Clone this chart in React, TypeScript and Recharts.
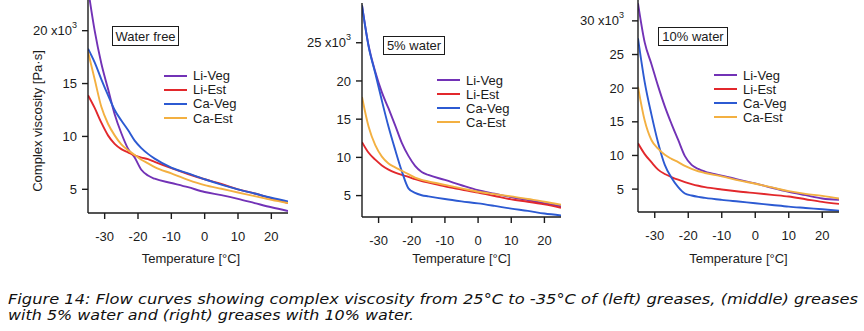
import React from "react";
import { LineChart, Line, XAxis, YAxis } from "recharts";

// temperatures (°C) where the curves were read
const temps = [-35, -33, -31, -29, -27, -25, -23, -21, -19, -17, -15, -10, -5, 0, 5, 10, 15, 20, 25];
const xTicks = [-30, -20, -10, 0, 10, 20];

const seriesNames = ["Li-Veg", "Li-Est", "Ca-Veg", "Ca-Est"];
const seriesColors = ["#7232b6", "#e2282c", "#2c5ad2", "#f3b041"];

// complex viscosity, x10^3 Pa·s — water free
const freeLiVeg = [24.0, 20.0, 16.9, 14.5, 12.1, 10.3, 8.85, 8.0, 6.85, 6.3, 6.0, 5.6, 5.2, 4.75, 4.45, 4.1, 3.7, 3.3, 2.95];
const freeLiEst = [13.9, 12.7, 11.3, 10.1, 9.3, 8.8, 8.5, 8.2, 8.0, 7.85, 7.6, 7.0, 6.45, 5.95, 5.5, 5.0, 4.6, 4.15, 3.7];
const freeCaVeg = [18.3, 17.0, 15.4, 13.9, 12.5, 11.5, 10.6, 9.6, 8.9, 8.35, 7.9, 7.05, 6.5, 5.95, 5.45, 5.0, 4.6, 4.2, 3.85];
const freeCaEst = [18.0, 15.4, 12.8, 11.2, 10.1, 9.25, 8.7, 8.25, 7.8, 7.45, 7.1, 6.5, 5.9, 5.4, 5.05, 4.7, 4.35, 4.0, 3.7];
const freeTicks = [5, 10, 15, 20];

// 5% water
const w5LiVeg = [29.9, 24.6, 21.2, 18.5, 16.4, 14.2, 11.9, 10.2, 8.9, 8.1, 7.7, 7.05, 6.35, 5.7, 5.25, 4.8, 4.4, 4.0, 3.6];
const w5LiEst = [12.0, 10.6, 9.7, 8.95, 8.4, 8.0, 7.7, 7.45, 7.15, 6.9, 6.7, 6.2, 5.8, 5.4, 4.95, 4.5, 4.2, 3.85, 3.4];
const w5CaVeg = [29.9, 24.5, 21.0, 17.4, 14.0, 11.0, 8.2, 5.95, 5.35, 5.05, 4.9, 4.55, 4.25, 3.98, 3.65, 3.3, 3.0, 2.65, 2.4];
const w5CaEst = [17.9, 14.0, 11.6, 10.1, 9.2, 8.7, 8.25, 7.8, 7.35, 7.05, 6.85, 6.4, 5.95, 5.5, 5.2, 4.9, 4.55, 4.2, 3.8];
const w5Ticks = [5, 10, 15, 20, 25];

// 10% water
const w10LiVeg = [32.6, 26.8, 23.6, 20.3, 17.3, 14.7, 12.3, 9.9, 8.6, 8.0, 7.6, 7.0, 6.4, 5.85, 5.2, 4.6, 4.1, 3.6, 3.4];
const w10LiEst = [11.8, 10.2, 9.0, 7.9, 7.25, 6.8, 6.4, 6.05, 5.75, 5.5, 5.3, 4.95, 4.65, 4.4, 4.15, 3.9, 3.5, 3.1, 2.8];
const w10CaVeg = [27.4, 20.9, 16.1, 11.9, 8.6, 6.7, 5.3, 4.35, 4.05, 3.85, 3.7, 3.4, 3.15, 2.9, 2.65, 2.4, 2.2, 2.0, 1.8];
const w10CaEst = [20.2, 15.2, 12.3, 11.0, 10.1, 9.5, 9.0, 8.45, 8.0, 7.65, 7.4, 6.9, 6.3, 5.8, 5.25, 4.7, 4.3, 4.0, 3.6];
const w10Ticks = [5, 10, 15, 20, 25, 30];

const FONT = "'Liberation Sans', Arial, sans-serif";
const INK = "#1b1b1b";

function buildRows(series: number[][]) {
  return temps.map((t, i) => {
    const row: Record<string, number> = { t };
    seriesNames.forEach((name, k) => {
      row[name] = series[k][i];
    });
    return row;
  });
}

function makeYTick(topTick: number) {
  return (props: any) => {
    const { x, y, payload } = props;
    const isTop = payload.value === topTick;
    return (
      <text x={x} y={y} dy={4.6} textAnchor="end" fontSize={13} fontFamily={FONT} fill={INK}>
        {isTop ? (
          <>
            {payload.value} x10<tspan dy={-7} fontSize={9}>3</tspan>
          </>
        ) : (
          payload.value
        )}
      </text>
    );
  };
}

interface PanelProps {
  left: number;
  width: number;
  yWidth: number;
  xHeight: number;
  top: number;
  yTickMargin: number;
  domain: [number, number];
  ticks: number[];
  series: number[][];
  label: string;
  box: { x: number; y: number; w: number; h: number };
  legend: { x: number; y: number };
  titleShift: number;
  showYTitle?: boolean;
}

function Panel(p: PanelProps) {
  const data = buildRows(p.series);
  return (
    <div style={{ position: "absolute", left: p.left, top: 0, width: p.width, height: 270 }}>
      <LineChart
        width={p.width}
        height={270}
        data={data}
        margin={{ top: p.top, right: 2, bottom: 0, left: 0 }}
      >
        <XAxis
          dataKey="t"
          type="number"
          domain={[-35, 25]}
          ticks={xTicks}
          allowDataOverflow
          height={p.xHeight}
          tickSize={6}
          tickMargin={13}
          axisLine={{ stroke: INK, strokeWidth: 1.4 }}
          tickLine={{ stroke: INK, strokeWidth: 1.4 }}
          tick={{ fontSize: 13, fill: INK, fontFamily: FONT }}
          label={(lp: any) => {
            const vb = lp.viewBox;
            return (
              <text
                x={vb.x + vb.width / 2 + p.titleShift}
                y={263}
                textAnchor="middle"
                fontSize={13}
                fontFamily={FONT}
                fill={INK}
              >
                Temperature [°C]
              </text>
            );
          }}
        />
        <YAxis
          type="number"
          domain={p.domain}
          ticks={p.ticks}
          allowDataOverflow
          width={p.yWidth}
          tickSize={6}
          tickMargin={p.yTickMargin}
          axisLine={{ stroke: INK, strokeWidth: 1.4 }}
          tickLine={{ stroke: INK, strokeWidth: 1.4 }}
          tick={makeYTick(p.ticks[p.ticks.length - 1])}
          label={
            p.showYTitle
              ? () => (
                  <text
                    x={37}
                    y={121}
                    transform="rotate(-90 37 121)"
                    textAnchor="middle"
                    dominantBaseline="central"
                    fontSize={13}
                    fontFamily={FONT}
                    fill={INK}
                  >
                    Complex viscosity [Pa·s]
                  </text>
                )
              : undefined
          }
        />
        {seriesNames.map((name, k) => (
          <Line
            key={name}
            type="monotone"
            dataKey={name}
            stroke={seriesColors[k]}
            strokeWidth={1.9}
            dot={false}
            isAnimationActive={false}
          />
        ))}
      </LineChart>
      <div
        style={{
          position: "absolute",
          left: p.box.x - p.left,
          top: p.box.y,
          width: p.box.w,
          height: p.box.h,
          boxSizing: "border-box",
          border: `1.3px solid ${INK}`,
          display: "flex",
          alignItems: "center",
          justifyContent: "center",
          fontFamily: FONT,
          fontSize: 13,
          color: INK,
          background: "#fff",
        }}
      >
        {p.label}
      </div>
      {seriesNames.map((name, k) => (
        <div
          key={name}
          style={{
            position: "absolute",
            left: p.legend.x - p.left,
            top: p.legend.y + k * 14.1 - 8,
            height: 16,
            display: "flex",
            alignItems: "center",
            fontFamily: FONT,
            fontSize: 13,
            color: INK,
            whiteSpace: "nowrap",
          }}
        >
          <span style={{ display: "inline-block", width: 23, height: 2, background: seriesColors[k], marginRight: 6 }} />
          {name}
        </div>
      ))}
    </div>
  );
}

export default function App() {
  return (
    <div
      style={{
        position: "absolute",
        left: 0,
        top: 0,
        width: 864,
        height: 331,
        background: "#fff",
        overflow: "hidden",
      }}
    >
      <Panel
        left={0}
        width={290}
        yWidth={88}
        xHeight={57}
        top={0}
        yTickMargin={5}
        domain={[2.76, 22.9]}
        ticks={freeTicks}
        series={[freeLiVeg, freeLiEst, freeCaVeg, freeCaEst]}
        label="Water free"
        box={{ x: 112, y: 26, w: 67, h: 20 }}
        legend={{ x: 164, y: 75.7 }}
        titleShift={3}
        showYTitle
      />
      <Panel
        left={290}
        width={273}
        yWidth={72}
        xHeight={53}
        top={3}
        yTickMargin={5}
        domain={[2.2, 30.2]}
        ticks={w5Ticks}
        series={[w5LiVeg, w5LiEst, w5CaVeg, w5CaEst]}
        label="5% water"
        box={{ x: 383, y: 36, w: 62, h: 19 }}
        legend={{ x: 437, y: 80 }}
        titleShift={0}
      />
      <Panel
        left={570}
        width={271}
        yWidth={68}
        xHeight={58}
        top={0}
        yTickMargin={8}
        domain={[1.6, 33.1]}
        ticks={w10Ticks}
        series={[w10LiVeg, w10LiEst, w10CaVeg, w10CaEst]}
        label="10% water"
        box={{ x: 658, y: 27, w: 70, h: 19 }}
        legend={{ x: 714, y: 75 }}
        titleShift={0}
      />
      <svg
        width={864}
        height={46}
        style={{ position: "absolute", left: 0, top: 285 }}
        fontFamily="'DejaVu Sans', Verdana, sans-serif"
        fontStyle="italic"
        fontSize={14.8}
        fill="#111"
      >
        <text x={8} y={18.5} textLength={850} lengthAdjust="spacingAndGlyphs">
          Figure 14: Flow curves showing complex viscosity from 25°C to -35°C of (left) greases, (middle) greases
        </text>
        <text x={8} y={35} textLength={406} lengthAdjust="spacingAndGlyphs">
          with 5% water and (right) greases with 10% water.
        </text>
      </svg>
    </div>
  );
}
